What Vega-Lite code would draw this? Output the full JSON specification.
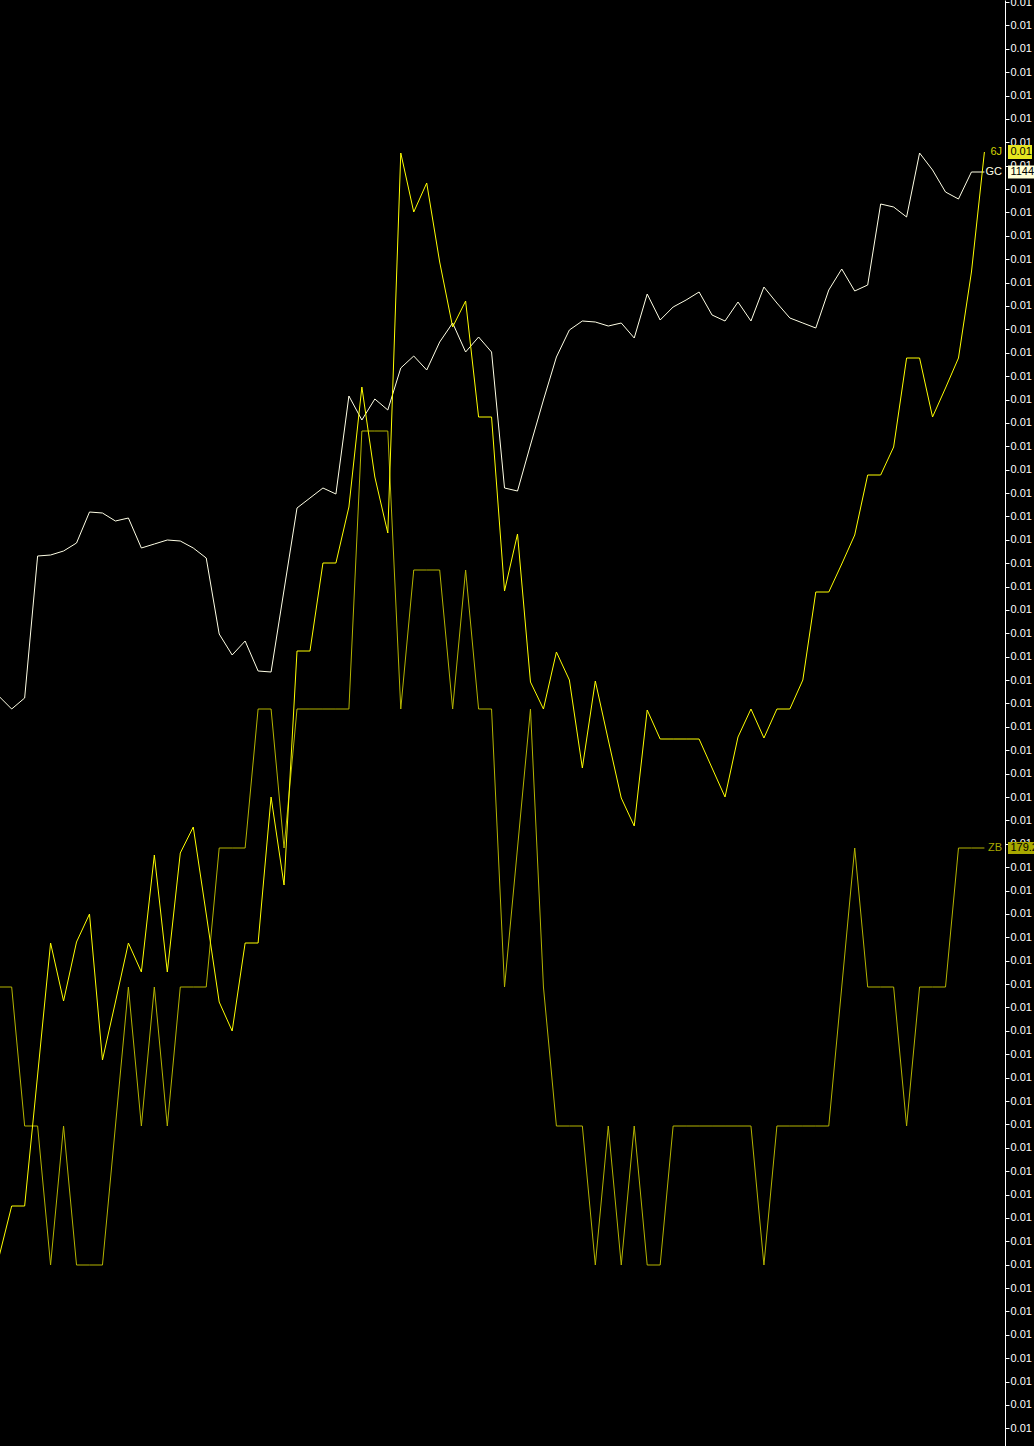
{
  "$schema": "https://vega.github.io/schema/vega-lite/v6.json",
  "width": 1005,
  "height": 1446,
  "autosize": {"type": "none"},
  "padding": {"left": 0, "top": 0, "right": 29, "bottom": 0},
  "background": "#000000",
  "config": {
    "view": {"stroke": null},
    "text": {"font": "Liberation Sans", "fontSize": 11}
  },
  "data": {
    "values": [
      {"i": 0, "gc": 1091.5, "jy": 0.010188, "zb": 179.1},
      {"i": 1, "gc": 1090.2, "jy": 0.010240, "zb": 179.1},
      {"i": 2, "gc": 1091.3, "jy": 0.010240, "zb": 179.0},
      {"i": 3, "gc": 1105.5, "jy": 0.010371, "zb": 179.0},
      {"i": 4, "gc": 1105.6, "jy": 0.010503, "zb": 178.9},
      {"i": 5, "gc": 1106.0, "jy": 0.010445, "zb": 179.0},
      {"i": 6, "gc": 1106.8, "jy": 0.010504, "zb": 178.9},
      {"i": 7, "gc": 1109.9, "jy": 0.010532, "zb": 178.9},
      {"i": 8, "gc": 1109.8, "jy": 0.010386, "zb": 178.9},
      {"i": 9, "gc": 1109.0, "jy": 0.010444, "zb": 179.0},
      {"i": 10, "gc": 1109.3, "jy": 0.010503, "zb": 179.1},
      {"i": 11, "gc": 1106.3, "jy": 0.010474, "zb": 179.0},
      {"i": 12, "gc": 1106.7, "jy": 0.010591, "zb": 179.1},
      {"i": 13, "gc": 1107.1, "jy": 0.010474, "zb": 179.0},
      {"i": 14, "gc": 1107.0, "jy": 0.010593, "zb": 179.1},
      {"i": 15, "gc": 1106.3, "jy": 0.010619, "zb": 179.1},
      {"i": 16, "gc": 1105.3, "jy": 0.010532, "zb": 179.1},
      {"i": 17, "gc": 1097.7, "jy": 0.010444, "zb": 179.2},
      {"i": 18, "gc": 1095.6, "jy": 0.010415, "zb": 179.2},
      {"i": 19, "gc": 1097.0, "jy": 0.010503, "zb": 179.2},
      {"i": 20, "gc": 1094.0, "jy": 0.010503, "zb": 179.3},
      {"i": 21, "gc": 1093.9, "jy": 0.010649, "zb": 179.3},
      {"i": 22, "gc": 1102.1, "jy": 0.010561, "zb": 179.2},
      {"i": 23, "gc": 1110.3, "jy": 0.010795, "zb": 179.3},
      {"i": 24, "gc": 1111.3, "jy": 0.010795, "zb": 179.3},
      {"i": 25, "gc": 1112.3, "jy": 0.010883, "zb": 179.3},
      {"i": 26, "gc": 1111.7, "jy": 0.010883, "zb": 179.3},
      {"i": 27, "gc": 1121.5, "jy": 0.010939, "zb": 179.3},
      {"i": 28, "gc": 1119.1, "jy": 0.011059, "zb": 179.5},
      {"i": 29, "gc": 1121.2, "jy": 0.010969, "zb": 179.5},
      {"i": 30, "gc": 1120.1, "jy": 0.010913, "zb": 179.5},
      {"i": 31, "gc": 1124.3, "jy": 0.011293, "zb": 179.3},
      {"i": 32, "gc": 1125.5, "jy": 0.011234, "zb": 179.4},
      {"i": 33, "gc": 1124.1, "jy": 0.011263, "zb": 179.4},
      {"i": 34, "gc": 1126.9, "jy": 0.011184, "zb": 179.4},
      {"i": 35, "gc": 1128.8, "jy": 0.011119, "zb": 179.3},
      {"i": 36, "gc": 1125.9, "jy": 0.011145, "zb": 179.4},
      {"i": 37, "gc": 1127.4, "jy": 0.011029, "zb": 179.3},
      {"i": 38, "gc": 1125.9, "jy": 0.011029, "zb": 179.3},
      {"i": 39, "gc": 1112.3, "jy": 0.010855, "zb": 179.1},
      {"i": 40, "gc": 1112.0, "jy": 0.010912, "zb": 179.2},
      {"i": 41, "gc": 1116.6, "jy": 0.010764, "zb": 179.3},
      {"i": 42, "gc": 1121.1, "jy": 0.010737, "zb": 179.1},
      {"i": 43, "gc": 1125.4, "jy": 0.010794, "zb": 179.0},
      {"i": 44, "gc": 1128.1, "jy": 0.010766, "zb": 179.0},
      {"i": 45, "gc": 1129.0, "jy": 0.010678, "zb": 179.0},
      {"i": 46, "gc": 1128.9, "jy": 0.010765, "zb": 178.9},
      {"i": 47, "gc": 1128.5, "jy": 0.010706, "zb": 179.0},
      {"i": 48, "gc": 1128.8, "jy": 0.010648, "zb": 178.9},
      {"i": 49, "gc": 1127.3, "jy": 0.010620, "zb": 179.0},
      {"i": 50, "gc": 1131.7, "jy": 0.010736, "zb": 178.9},
      {"i": 51, "gc": 1129.1, "jy": 0.010707, "zb": 178.9},
      {"i": 52, "gc": 1130.4, "jy": 0.010707, "zb": 179.0},
      {"i": 53, "gc": 1131.1, "jy": 0.010707, "zb": 179.0},
      {"i": 54, "gc": 1131.9, "jy": 0.010707, "zb": 179.0},
      {"i": 55, "gc": 1129.6, "jy": 0.010678, "zb": 179.0},
      {"i": 56, "gc": 1129.0, "jy": 0.010649, "zb": 179.0},
      {"i": 57, "gc": 1130.9, "jy": 0.010709, "zb": 179.0},
      {"i": 58, "gc": 1129.0, "jy": 0.010737, "zb": 179.0},
      {"i": 59, "gc": 1132.4, "jy": 0.010708, "zb": 178.9},
      {"i": 60, "gc": 1130.8, "jy": 0.010737, "zb": 179.0},
      {"i": 61, "gc": 1129.3, "jy": 0.010737, "zb": 179.0},
      {"i": 62, "gc": 1128.8, "jy": 0.010766, "zb": 179.0},
      {"i": 63, "gc": 1128.3, "jy": 0.010854, "zb": 179.0},
      {"i": 64, "gc": 1132.1, "jy": 0.010854, "zb": 179.0},
      {"i": 65, "gc": 1134.2, "jy": 0.010882, "zb": 179.1},
      {"i": 66, "gc": 1132.0, "jy": 0.010911, "zb": 179.2},
      {"i": 67, "gc": 1132.6, "jy": 0.010971, "zb": 179.1},
      {"i": 68, "gc": 1140.7, "jy": 0.010971, "zb": 179.1},
      {"i": 69, "gc": 1140.4, "jy": 0.010999, "zb": 179.1},
      {"i": 70, "gc": 1139.4, "jy": 0.011088, "zb": 179.0},
      {"i": 71, "gc": 1145.8, "jy": 0.011088, "zb": 179.1},
      {"i": 72, "gc": 1144.1, "jy": 0.011029, "zb": 179.1},
      {"i": 73, "gc": 1141.9, "jy": 0.011058, "zb": 179.1},
      {"i": 74, "gc": 1141.2, "jy": 0.011088, "zb": 179.2},
      {"i": 75, "gc": 1143.9, "jy": 0.011174, "zb": 179.2},
      {"i": 76, "gc": 1143.9, "jy": 0.011294, "zb": 179.2}
    ]
  },
  "encoding": {
    "x": {"field": "i", "type": "quantitative", "scale": {"domain": [0.1, 77.587], "nice": false, "zero": false}, "axis": null}
  },
  "layer": [
    {
      "encoding": {
        "y": {"field": "zb", "type": "quantitative", "scale": {"domain": [178.769784, 179.810072], "nice": false, "zero": false}, "axis": null}
      },
      "layer": [
        {"mark": {"type": "line", "color": "#b4b400", "strokeWidth": 1, "clip": true}},
        {"transform": [{"filter": "datum.i == 76"}], "mark": {"type": "point", "shape": "M23.6,-6H56V6H23.6Z", "size": 4, "filled": true, "color": "#a8a800", "opacity": 1, "strokeWidth": 0}},
        {"transform": [{"filter": "datum.i == 76"}], "mark": {"type": "text", "align": "left", "baseline": "middle", "dx": 26, "dy": 0.5, "color": "#000000"}, "encoding": {"text": {"field": "zb", "format": ".1f"}}},
        {"transform": [{"filter": "datum.i == 76"}], "mark": {"type": "text", "align": "right", "baseline": "middle", "dx": 17.6, "color": "#a8a800"}, "encoding": {"text": {"value": "ZB"}}}
      ]
    },
    {
      "encoding": {
        "y": {"field": "gc", "type": "quantitative", "scale": {"domain": [1016.5, 1161.1], "nice": false, "zero": false}, "axis": null}
      },
      "layer": [
        {"mark": {"type": "line", "color": "#ffffe6", "strokeWidth": 1, "clip": true}},
        {"transform": [{"filter": "datum.i == 76"}], "mark": {"type": "point", "shape": "M23.6,-6.5H56V6.5H23.6Z", "size": 4, "filled": true, "color": "#ffffd6", "opacity": 1, "strokeWidth": 0}},
        {"transform": [{"filter": "datum.i == 76"}], "mark": {"type": "text", "align": "left", "baseline": "middle", "dx": 26, "color": "#000000"}, "encoding": {"text": {"field": "gc", "format": ".0f"}}},
        {"transform": [{"filter": "datum.i == 76"}], "mark": {"type": "text", "align": "right", "baseline": "middle", "dx": 17.6, "color": "#ffffe6"}, "encoding": {"text": {"value": "GC"}}}
      ]
    },
    {
      "encoding": {
        "y": {
          "field": "jy", "type": "quantitative",
          "scale": {"domain": [0.01, 0.011446], "nice": false, "zero": false},
          "axis": {
            "orient": "right", "title": null, "grid": false, "format": ".2f",
            "values": [0.011444, 0.011420617, 0.011397234, 0.011373851, 0.011350468, 0.011327085, 0.011303702, 0.011280319, 0.011256936, 0.011233553, 0.01121017, 0.011186787, 0.011163404, 0.011140021, 0.011116638, 0.011093255, 0.011069872, 0.011046489, 0.011023106, 0.010999723, 0.01097634, 0.010952957, 0.010929574, 0.010906191, 0.010882808, 0.010859425, 0.010836042, 0.010812659, 0.010789276, 0.010765893, 0.01074251, 0.010719127, 0.010695744, 0.010672361, 0.010648978, 0.010625595, 0.010602212, 0.010578829, 0.010555446, 0.010532063, 0.01050868, 0.010485297, 0.010461914, 0.010438531, 0.010415148, 0.010391765, 0.010368382, 0.010344999, 0.010321616, 0.010298233, 0.01027485, 0.010251467, 0.010228084, 0.010204701, 0.010181318, 0.010157935, 0.010134552, 0.010111169, 0.010087786, 0.010064403, 0.01004102, 0.010017637],
            "labelOverlap": false, "labelFlush": false, "labelBound": false,
            "domainColor": "#ffffff", "domainWidth": 1, "tickColor": "#ffffff", "tickSize": 4, "tickWidth": 1,
            "labelColor": "#ffffff", "labelFont": "Liberation Sans", "labelFontSize": 11, "labelPadding": 1
          }
        }
      },
      "layer": [
        {"mark": {"type": "line", "color": "#ffff00", "strokeWidth": 1, "clip": true}},
        {"transform": [{"filter": "datum.i == 76"}], "mark": {"type": "point", "shape": "M23.6,-7H47.6V7H23.6Z", "size": 4, "filled": true, "color": "#e6e620", "opacity": 1, "strokeWidth": 0}},
        {"transform": [{"filter": "datum.i == 76"}], "mark": {"type": "text", "align": "left", "baseline": "middle", "dx": 26, "color": "#000000"}, "encoding": {"text": {"field": "jy", "format": ".2f"}}},
        {"transform": [{"filter": "datum.i == 76"}], "mark": {"type": "text", "align": "right", "baseline": "middle", "dx": 17.6, "color": "#d2d200"}, "encoding": {"text": {"value": "6J"}}}
      ]
    }
  ],
  "resolve": {"scale": {"y": "independent"}}
}
